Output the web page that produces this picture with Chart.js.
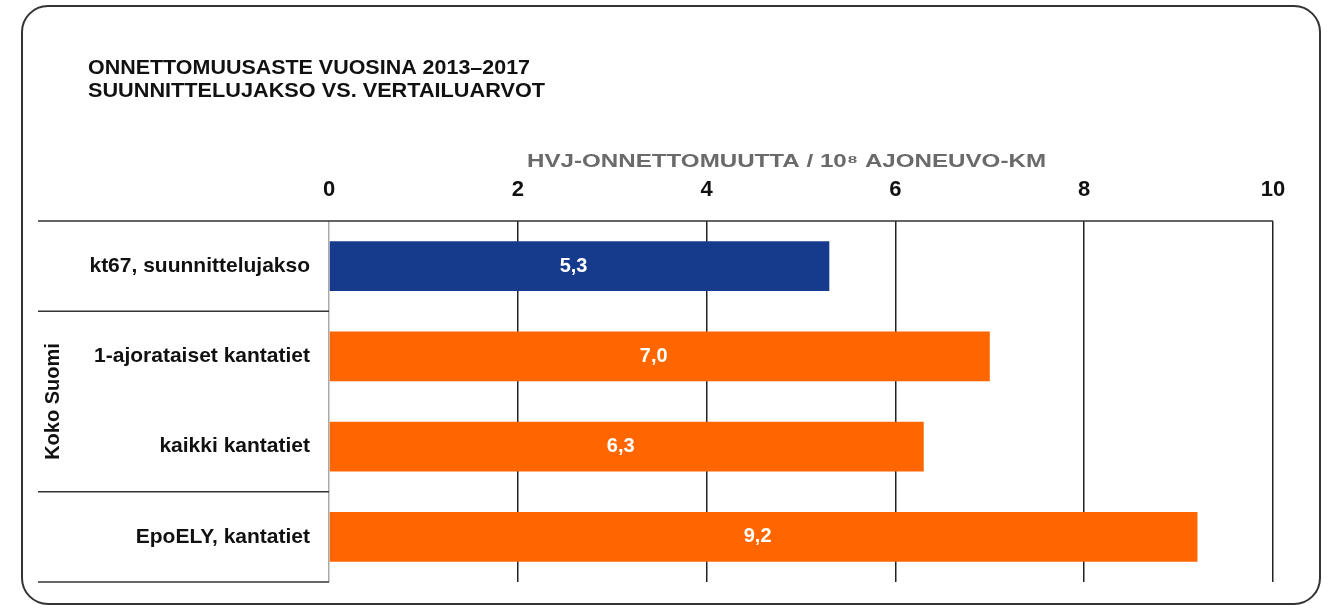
<!DOCTYPE html>
<html>
<head>
<meta charset="utf-8">
<script src="https://cdn.jsdelivr.net/npm/chart.js@4.4.1/dist/chart.umd.min.js"></script>
<style>
  html, body { margin: 0; padding: 0; background: #fff; }
  #wrap { width: 1329px; height: 609px; position: relative; }
</style>
</head>
<body>
<div id="wrap"><canvas id="chart"></canvas></div>
<script>
// data
var categories = ['kt67, suunnittelujakso', '1-ajorataiset kantatiet', 'kaikki kantatiet', 'EpoELY, kantatiet'];
var rates = [5.3, 7.0, 6.3, 9.2];
var barColors = ['#163b8c', '#ff6600', '#ff6600', '#ff6600'];
var xTicks = [0, 2, 4, 6, 8, 10];
var titleLines = ['ONNETTOMUUSASTE VUOSINA 2013\u20132017', 'SUUNNITTELUJAKSO VS. VERTAILUARVOT'];
var axisTitle = 'HVJ-ONNETTOMUUTTA / 10\u2078 AJONEUVO-KM';
var groupLabel = 'Koko Suomi';

// draws text squeezed or stretched to a given width
function fitText(ctx, text, x, y, width){
    var w = ctx.measureText(text).width;
    ctx.save();
    ctx.translate(x, y);
    ctx.scale(width / w, 1);
    ctx.fillText(text, 0, 0);
    ctx.restore();
}

// frame, titles, separators, group label, value labels
var decoPlugin = {
    id: 'deco',
    beforeDraw: function(chart){
        var ctx = chart.ctx;
        ctx.save();
        // rounded frame
        var x0 = 22, y0 = 6, x1 = 1320, y1 = 604, r = 26;
        ctx.beginPath();
        ctx.moveTo(x0 + r, y0);
        ctx.arcTo(x1, y0, x1, y1, r);
        ctx.arcTo(x1, y1, x0, y1, r);
        ctx.arcTo(x0, y1, x0, y0, r);
        ctx.arcTo(x0, y0, x1, y0, r);
        ctx.closePath();
        ctx.lineWidth = 2;
        ctx.strokeStyle = '#333';
        ctx.stroke();

        // chart title
        ctx.fillStyle = '#111';
        ctx.font = 'bold 21px "Liberation Sans", Arial, sans-serif';
        ctx.textBaseline = 'middle';
        ctx.textAlign = 'left';
        fitText(ctx, titleLines[0], 88, 68, 442);
        fitText(ctx, titleLines[1], 88, 91, 457);

        // axis title
        ctx.fillStyle = '#6a6a6a';
        ctx.font = 'bold 18px "Liberation Sans", Arial, sans-serif';
        fitText(ctx, axisTitle, 527, 162, 519);
        ctx.restore();
    },
    afterDraw: function(chart){
        var ctx = chart.ctx;
        var area = chart.chartArea;
        var band = (area.bottom - area.top) / categories.length;
        var left = 38;
        ctx.save();
        ctx.strokeStyle = '#333';
        ctx.lineWidth = 1.5;
        ctx.beginPath();
        ctx.moveTo(left, area.top);
        ctx.lineTo(area.right, area.top);
        [1, 3, 4].forEach(function(i){
            var yy = area.top + band * i;
            ctx.moveTo(left, yy);
            ctx.lineTo(area.left, yy);
        });
        ctx.stroke();

        // group label rotated
        ctx.fillStyle = '#111';
        ctx.font = 'bold 20px "Liberation Sans", Arial, sans-serif';
        ctx.textAlign = 'center';
        ctx.textBaseline = 'middle';
        ctx.translate(53, area.top + band * 2);
        ctx.rotate(-Math.PI / 2);
        ctx.fillText(groupLabel, 0, 0);
        ctx.restore();

        // value labels inside bars
        var meta = chart.getDatasetMeta(0);
        ctx.save();
        ctx.fillStyle = '#fff';
        ctx.font = 'bold 20px "Liberation Sans", Arial, sans-serif';
        ctx.textAlign = 'center';
        ctx.textBaseline = 'middle';
        meta.data.forEach(function(bar, i){
            var p = bar.getProps(['x', 'y', 'base'], true);
            ctx.fillText(rates[i].toFixed(1).replace('.', ','), (p.x + p.base) / 2 - 6, p.y);
        });
        ctx.restore();
    }
};

var ctx = document.getElementById('chart').getContext('2d');
var myChart = new Chart(ctx, {
    type: 'bar',
    data: {
        labels: categories,
        datasets: [{
            data: rates,
            backgroundColor: barColors,
            borderWidth: 0,
            categoryPercentage: 1,
            barPercentage: 0.55
        }]
    },
    options: {
        indexAxis: 'y',
        responsive: true,
        maintainAspectRatio: false,
        animation: false,
        layout: {
            padding: { left: 38, right: 56, top: 147, bottom: 27 }
        },
        plugins: {
            legend: { display: false },
            tooltip: { enabled: false }
        },
        scales: {
            x: {
                position: 'top',
                min: 0,
                max: 10,
                afterBuildTicks: function(scale){
                    scale.ticks = xTicks.map(function(v){ return { value: v }; });
                },
                afterFit: function(scale){ scale.height = 74; },
                ticks: {
                    color: '#111',
                    padding: 18,
                    font: { family: '"Liberation Sans", Arial, sans-serif', size: 22, weight: 'bold' }
                },
                grid: {
                    drawTicks: false,
                    color: function(c){ return c.tick && c.tick.value === 0 ? '#aaa' : '#222'; },
                    lineWidth: 1.5
                },
                border: { display: false }
            },
            y: {
                afterFit: function(scale){
                    scale.width = 291;
                    scale.paddingTop = 0;
                    scale.paddingBottom = 0;
                },
                ticks: {
                    color: '#111',
                    padding: 19,
                    font: { family: '"Liberation Sans", Arial, sans-serif', size: 21, weight: 'bold' }
                },
                grid: { display: false, drawTicks: false },
                border: { display: false }
            }
        }
    },
    plugins: [decoPlugin]
});
</script>
</body>
</html>
